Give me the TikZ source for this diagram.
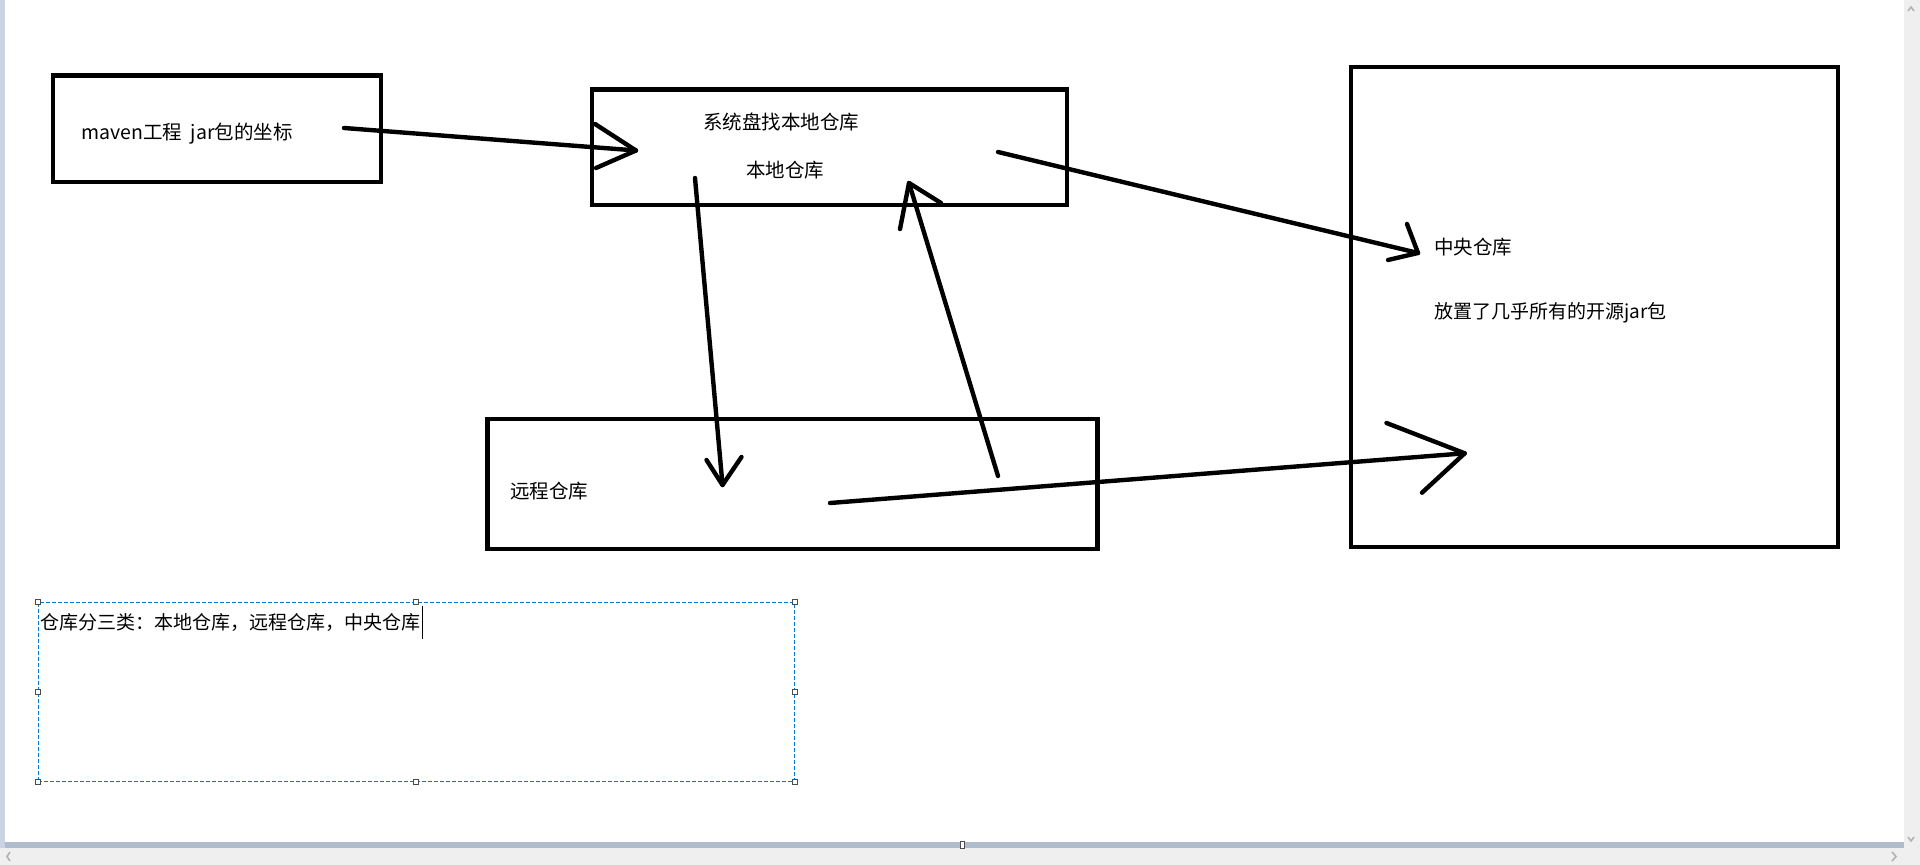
\documentclass[tikz,border=0pt]{standalone}
\usepackage{fontspec}
\newfontfamily\cjk{Noto Sans CJK SC}
\usetikzlibrary{positioning}

\definecolor{selblue}{RGB}{0,120,215}
\definecolor{chromegray}{RGB}{239,239,239}
\definecolor{paneblue}{RGB}{201,211,228}
\definecolor{bardark}{RGB}{176,188,206}

\begin{document}
\begin{tikzpicture}[x=0.5pt, y=-0.5pt,
    box/.style={draw, line width=2.4pt, inner sep=0pt, outer sep=0pt},
    pen/.style={line width=2.2pt, line cap=round, line join=round},
    txt/.style={font=\cjk\fontsize{9.75pt}{11pt}\selectfont, inner sep=0pt},
    lefttxt/.style={txt, anchor=west},
    smalltxt/.style={lefttxt, font=\cjk\fontsize{9.5pt}{11pt}\selectfont},
    handle/.style={draw=black!70, fill=white, line width=0.4pt, minimum size=2.5pt, inner sep=0pt}]

    \useasboundingbox (0,0) rectangle (1920,865);

    % window edges of the paint program
    \fill[paneblue] (0,0) rectangle (5,848);
    \fill[chromegray] (1904,0) rectangle (1920,865);
    \fill[chromegray] (0,848) rectangle (1920,865);
    \fill[bardark] (5,842) rectangle (1904,848);
    \filldraw[fill=white, draw=black!70, line width=0.4pt] (960,841) rectangle (964,848);
    \draw[gray!60, line width=0.8pt] (1908,11) -- (1911,7) -- (1914,11);
    \draw[gray!60, line width=0.8pt] (1908,837) -- (1911,841) -- (1914,837);
    \draw[gray!60, line width=0.8pt] (1892,852) -- (1896,856.5) -- (1892,861);
    \draw[gray!60, line width=0.8pt] (10,852) -- (7,856.5) -- (10,861);

    % Boxes
    \node[box, minimum width=164pt, minimum height=53.25pt] (project) at (217,128.75) {};
    \node[box, minimum width=237.5pt, minimum height=57.75pt] (local) at (829.5,147.25) {};
    \node[box, minimum width=243.5pt, minimum height=240pt] (central) at (1594.5,307) {};
    \node[box, minimum width=305pt, minimum height=65pt] (remote) at (792.5,484) {};

    % Texts in the boxes
    \node[lefttxt] (projectTxt) at (81,134) {maven工程\hspace{0.45em}jar包的坐标};
    \node[txt] (searchTxt) at (781,122) {系统盘找本地仓库};
    \node[txt] (localTxt) at (785,170) {本地仓库};
    \node[lefttxt] (centralTxt) at (1434,247) {中央仓库};
    \node[smalltxt] (centralNote) at (1434,313) {放置了几乎所有的开源jar包};
    \node[lefttxt] (remoteTxt) at (510,491) {远程仓库};

    % Hand drawn arrows: start, tip and the two barbs
    \coordinate (a1s) at (344,128);
    \coordinate (a1t) at (636,150.5);
    \coordinate (a1l) at (595,124);
    \coordinate (a1r) at (596,168);
    \draw[pen] (a1s) -- (a1t);
    \draw[pen] (a1l) -- (a1t) -- (a1r);

    \coordinate (a2s) at (998,152);
    \coordinate (a2t) at (1418,253);
    \coordinate (a2l) at (1407,224);
    \coordinate (a2r) at (1388,260);
    \draw[pen] (a2s) -- (a2t);
    \draw[pen] (a2l) -- (a2t) -- (a2r);

    \coordinate (a3s) at (695,178);
    \coordinate (a3t) at (722.5,485);
    \coordinate (a3l) at (706.5,460);
    \coordinate (a3r) at (741.5,457);
    \draw[pen] (a3s) -- (a3t);
    \draw[pen] (a3l) -- (a3t) -- (a3r);

    \coordinate (a4s) at (998,476);
    \coordinate (a4t) at (909,183);
    \coordinate (a4l) at (900,229);
    \coordinate (a4r) at (941,203);
    \draw[pen] (a4s) -- (a4t);
    \draw[pen] (a4l) -- (a4t) -- (a4r);

    \coordinate (a5s) at (830,503);
    \coordinate (a5t) at (1464.7,453.3);
    \coordinate (a5l) at (1386.5,423);
    \coordinate (a5r) at (1422,492.7);
    \draw[pen] (a5s) -- (a5t);
    \draw[pen] (a5l) -- (a5t) -- (a5r);

    % Text box being edited
    \node[draw=selblue, line width=0.5pt, dash pattern=on 2pt off 1pt, inner sep=0pt,
          minimum width=378.3pt, minimum height=89.25pt] (noteBox) at (416.3,691.8) {};
    \foreach \a/\n in {north west/nw, north/n, north east/ne, west/w, east/e, south west/sw, south/s, south east/se}
        \node[handle] (h\n) at (noteBox.\a) {};
    \node[smalltxt] (noteTxt) at (40,623) {仓库分三类：本地仓库，远程仓库，中央仓库};
    \draw[line width=0.5pt] ([xshift=1pt]noteTxt.east) ++(0,-17) -- ++(0,33);

\end{tikzpicture}
\end{document}
